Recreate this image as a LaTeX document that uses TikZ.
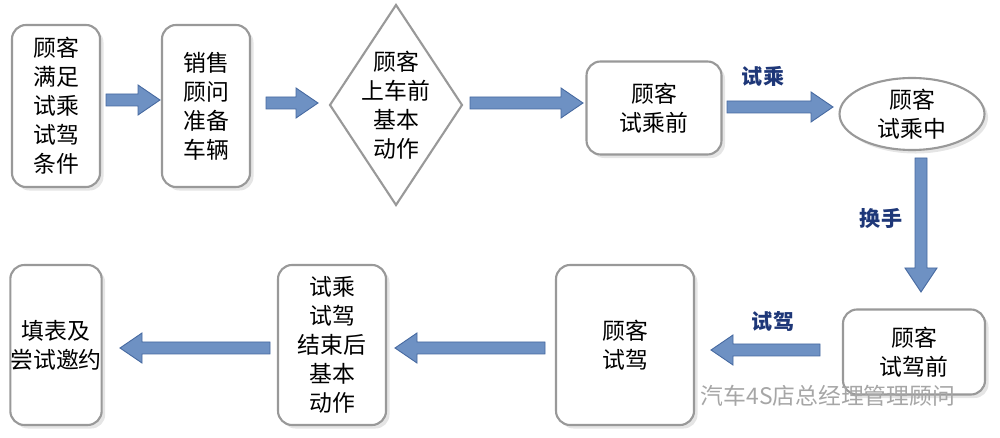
\documentclass[tikz,border=0pt]{standalone}
\usepackage{fontspec}
\newfontfamily\cjk{Noto Sans CJK SC}
\usetikzlibrary{shapes.geometric,arrows.meta,shadows}
\definecolor{arr}{RGB}{110,145,195}
\definecolor{arrd}{RGB}{70,105,160}
\definecolor{lab}{RGB}{30,55,120}
\begin{document}
\begin{tikzpicture}[x=0.02cm,y=-0.02cm,
 txt/.style={align=center,font=\cjk\fontsize{13}{16.5}\selectfont,inner sep=0pt},
 box/.style={txt,draw=gray!80,line width=1.2pt,rounded corners=8pt,fill=white,drop shadow={shadow xshift=2pt,shadow yshift=-2pt,fill=gray!40}},
 blk/.style={draw=arrd,line width=0.5pt,fill=arr},
 lbl/.style={font=\cjk\bfseries\fontsize{12}{14}\selectfont,text=lab}]
\useasboundingbox (0,0) rectangle (1000,438);
\node[box,minimum width=88*0.02cm,minimum height=162*0.02cm] (n1) at (56,106) {顾客\\满足\\试乘\\试驾\\条件};
\node[box,minimum width=88*0.02cm,minimum height=162*0.02cm] (n2) at (206,106) {销售\\顾问\\准备\\车辆};
\filldraw[draw=gray!80,line width=1.2pt,fill=white] (396,5) -- (462,105) -- (396,205) -- (330,105) -- cycle;
\node[txt] (n3) at (396,105) {顾客\\上车前\\基本\\动作};
\node[box,minimum width=135*0.02cm,minimum height=93*0.02cm] (n4) at (654,108) {顾客\\试乘前};
\node[txt,ellipse,draw=gray!80,line width=1.2pt,fill=white,minimum width=145*0.02cm,minimum height=72*0.02cm,drop shadow={shadow xshift=2pt,shadow yshift=-2pt,fill=gray!40}] (n5) at (912,114) {顾客\\试乘中};
\node[box,minimum width=142*0.02cm,minimum height=85*0.02cm] (n6) at (914,352) {顾客\\试驾前};
\node[box,minimum width=138*0.02cm,minimum height=160*0.02cm] (n7) at (625,345) {顾客\\试驾};
\node[box,minimum width=108*0.02cm,minimum height=160*0.02cm] (n8) at (332,345) {试乘\\试驾\\结束后\\基本\\动作};
\node[box,minimum width=88*0.02cm,minimum height=160*0.02cm] (n9) at (56,345) {填表及\\尝试邀约};
\newcommand\blkH[3]{\pgfmathsetmacro\hx{#2-sign(#2-#1)*22}%
 \filldraw[blk] (#1,#3-6) -- (\hx,#3-6) -- (\hx,#3-15) -- (#2,#3) -- (\hx,#3+15) -- (\hx,#3+6) -- (#1,#3+6) -- cycle;}
\blkH{106}{160}{100}
\blkH{266}{318}{103}
\blkH{470}{583}{103}
\blkH{727}{833}{107}
\blkH{820}{711}{350}
\blkH{545}{395}{348}
\blkH{270}{120}{348}
\filldraw[blk] (915,158) -- (927,158) -- (927,268) -- (937,268) -- (921,292) -- (905,268) -- (915,268) -- cycle;
\node[lbl] (l1) at (763,76) {试乘};
\node[lbl] (l2) at (881,218) {换手};
\node[lbl] (l3) at (773,322) {试驾};
\node[font=\cjk\fontsize{13}{16}\selectfont,text=gray!70] (wm) at (828,396) {汽车4S店总经理管理顾问};
\end{tikzpicture}
\end{document}
